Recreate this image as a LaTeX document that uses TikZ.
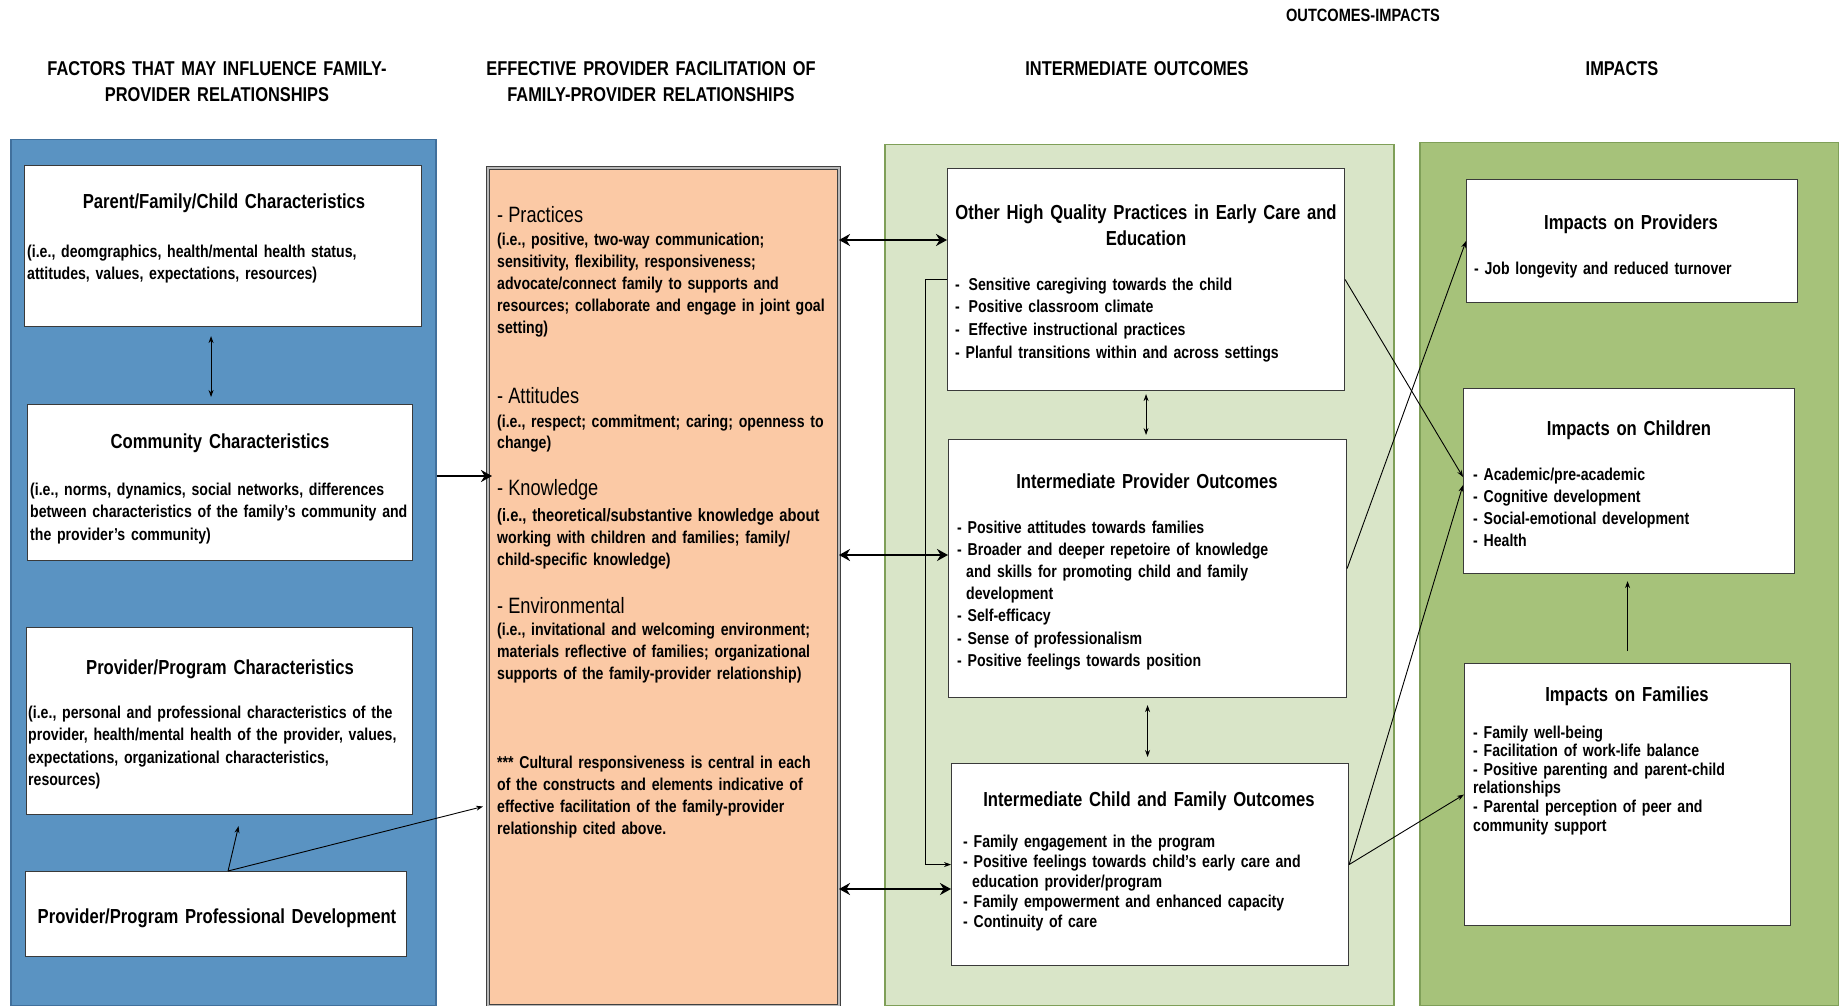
\documentclass[tikz,border=0pt]{standalone}
\usepackage{fontspec}
\setmainfont{Liberation Sans}[FakeStretch=0.82]
\usetikzlibrary{arrows.meta,positioning,calc}
\definecolor{panelblue}{HTML}{5A93C2}
\definecolor{panelblueline}{HTML}{41709C}
\definecolor{peach}{HTML}{FBC9A5}
\definecolor{sage}{HTML}{D9E5C8}
\definecolor{leaf}{HTML}{A6C27A}
\definecolor{leafline}{HTML}{7F9F58}
\definecolor{boxline}{HTML}{3A3A3A}
\tikzset{
  panel/.style={anchor=north west,inner sep=0pt,line width=1.5pt},
  wbox/.style={draw=boxline,fill=white,anchor=north west,inner sep=0pt,line width=1.1pt},
  hdr/.style={font=\fontsize{20}{26}\selectfont\bfseries,align=center,text width=460pt,anchor=base,inner sep=0pt},
  ttl/.style={font=\fontsize{20.3}{26}\selectfont\bfseries,align=center,text width=460pt,anchor=base,inner sep=0pt},
  txt/.style={font=\fontsize{17.2}{#1}\selectfont\bfseries,align=left,text width=460pt,anchor=base west,inner sep=0pt},
  txt/.default=22.5,
  secth/.style={font=\fontsize{22.2}{24}\selectfont,anchor=base west,inner sep=0pt},
  arr/.style={-{Stealth[length=7pt,width=5pt]},line width=0.9pt},
  tarr/.style={{Stealth[length=7pt,width=5pt]}-{Stealth[length=7pt,width=5pt]},line width=0.9pt},
  barr/.style={-{Stealth[length=11pt,width=12pt]},line width=2.8pt},
  darr/.style={{Stealth[length=11pt,width=12pt]}-{Stealth[length=11pt,width=12pt]},line width=2.8pt},
}
\begin{document}
\begin{tikzpicture}[x=1pt,y=-1pt]
  \useasboundingbox (0,0) rectangle (1839,1006);

  % column headers
  \node[hdr,font=\fontsize{17.8}{20}\selectfont\bfseries] (h0) at (1363,21.5) {OUTCOMES-IMPACTS};
  \node[hdr] (h1) at (217,76) {FACTORS THAT MAY INFLUENCE FAMILY-\\PROVIDER RELATIONSHIPS};
  \node[hdr] (h2) at (651,76) {EFFECTIVE PROVIDER FACILITATION OF\\FAMILY-PROVIDER RELATIONSHIPS};
  \node[hdr] (h3) at (1137,76) {INTERMEDIATE OUTCOMES};
  \node[hdr] (h4) at (1622,76) {IMPACTS};

  % panels
  \node[panel,draw=panelblueline,fill=panelblue,minimum width=425pt,minimum height=866pt] (bl) at (10,139) {};
  \node[panel,draw=black!75,double=gray!55,double distance=2pt,line width=1pt,fill=peach,
        minimum width=351pt,minimum height=838pt] (fac) at (487,167) {};
  \node[panel,draw=leafline,fill=sage,minimum width=509pt,minimum height=861pt] (io) at (884,144) {};
  \node[panel,draw=leafline,fill=leaf,minimum width=419pt,minimum height=863pt] (imp) at (1419,142) {};

  % factors
  \node[wbox,minimum width=397pt,minimum height=161pt] (pfc) at (24,165) {};
  \node[wbox,minimum width=385pt,minimum height=156pt] (com) at (27,404) {};
  \node[wbox,minimum width=386pt,minimum height=187pt] (ppc) at (26,627) {};
  \node[wbox,minimum width=381pt,minimum height=85pt] (ppd) at (25,871) {};
  \node[ttl] (pfc-t) at (224,208) {Parent/Family/Child Characteristics};
  \node[txt] (pfc-b) at (27,257) {(i.e., deomgraphics, health/mental health status,\\attitudes, values, expectations, resources)};
  \node[ttl] (com-t) at (220,448) {Community Characteristics};
  \node[txt] (com-b) at (30,495) {(i.e., norms, dynamics, social networks, differences\\between characteristics of the family's community and\\the provider's community)};
  \node[ttl] (ppc-t) at (220,674) {Provider/Program Characteristics};
  \node[txt] (ppc-b) at (28,718) {(i.e., personal and professional characteristics of the\\provider, health/mental health of the provider, values,\\expectations, organizational characteristics,\\resources)};
  \node[ttl] (ppd-t) at (217,923) {Provider/Program Professional Development};

  % facilitation
  \node[secth] (prh) at (497,222) {- Practices};
  \node[txt=22] (prb) at (497,245) {(i.e., positive, two-way communication;\\sensitivity, flexibility, responsiveness;\\advocate/connect family to supports and\\resources; collaborate and engage in joint goal\\setting)};
  \node[secth] (ath) at (497,403) {- Attitudes};
  \node[txt=21] (atb) at (497,427) {(i.e., respect; commitment; caring; openness to\\change)};
  \node[secth] (knh) at (497,495) {- Knowledge};
  \node[txt=22] (knb) at (497,521) {{\fontsize{17.9}{22}\selectfont(i.e., theoretical/substantive knowledge about}\\working with children and families; family/\\child-specific knowledge)};
  \node[secth] (enh) at (497,613) {- Environmental};
  \node[txt=22] (enb) at (497,635) {(i.e., invitational and welcoming environment;\\materials reflective of families; organizational\\supports of the family-provider relationship)};
  \node[txt=22] (cul) at (497,768) {*** Cultural responsiveness is central in each\\of the constructs and elements indicative of\\effective facilitation of the family-provider\\relationship cited above.};

  % intermediate outcomes
  \node[wbox,minimum width=397pt,minimum height=222pt] (ohq) at (947,168) {};
  \node[wbox,minimum width=398pt,minimum height=258pt] (ipo) at (948,439) {};
  \node[wbox,minimum width=397pt,minimum height=202pt] (icf) at (951,763) {};
  \node[ttl] (ohq-t) at (1146,219) {Other High Quality Practices in Early Care and\\Education};
  \node[txt=22.7] (ohq-b) at (955,290) {-\hspace{3pt} Sensitive caregiving towards the child\\-\hspace{3pt} Positive classroom climate\\-\hspace{3pt} Effective instructional practices\\- Planful transitions within and across settings};
  \node[ttl] (ipo-t) at (1147,488) {Intermediate Provider Outcomes};
  \node[txt=22.2] (ipo-b) at (957,533) {- Positive attitudes towards families\\- Broader and deeper repetoire of knowledge\\\hspace*{9pt}and skills for promoting child and family\\\hspace*{9pt}development\\- Self-efficacy\\- Sense of professionalism\\- Positive feelings towards position};
  \node[ttl] (icf-t) at (1149,806) {Intermediate Child and Family Outcomes};
  \node[txt=20] (icf-b) at (963,847) {- Family engagement in the program\\- Positive feelings towards child's early care and\\\hspace*{9pt}education provider/program\\- Family empowerment and enhanced capacity\\- Continuity of care};

  % impacts
  \node[wbox,minimum width=331pt,minimum height=123pt] (ipr) at (1466,179) {};
  \node[wbox,minimum width=331pt,minimum height=185pt] (ich) at (1463,388) {};
  \node[wbox,minimum width=326pt,minimum height=262pt] (ifa) at (1464,663) {};
  \node[ttl] (ipr-t) at (1631,229) {Impacts on Providers};
  \node[txt] (ipr-b) at (1474,274) {- Job longevity and reduced turnover};
  \node[ttl] (ich-t) at (1629,435) {Impacts on Children};
  \node[txt=22] (ich-b) at (1473,480) {- Academic/pre-academic\\- Cognitive development\\- Social-emotional development\\- Health};
  \node[ttl] (ifa-t) at (1627,701) {Impacts on Families};
  \node[txt=18.6] (ifa-b) at (1473,738) {- Family well-being\\- Facilitation of work-life balance\\- Positive parenting and parent-child\\relationships\\- Parental perception of peer and\\community support};

  % connectors
  \coordinate (pc) at ($(pfc.south)+(-12,0)$);
  \draw[tarr,shorten <=9pt,shorten >=7pt] (pc) -- (pc |- com.north);
  \coordinate (cf) at (0,476);
  \draw[barr,shorten >=-5pt] (bl.east |- cf) -- (fac.west |- cf);
  \coordinate (pd) at ($(ppd.north)+(12,0)$);
  \draw[arr] (pd) -- ($(ppc.south)+(19,11)$);
  \draw[arr] (pd) -- ($(fac.west)+(-4,220)$);

  \coordinate (o1) at ($(ohq.north west)+(0,72)$);
  \coordinate (o2) at ($(ipo.north west)+(0,116)$);
  \coordinate (o3) at ($(icf.north west)+(0,126)$);
  \foreach \c in {o1,o2,o3}{\draw[darr] (fac.east |- \c) -- (\c);}

  \draw[tarr,shorten <=3pt,shorten >=4pt] (ohq.south) -- (ohq.south |- ipo.north);
  \draw[tarr,shorten <=7pt,shorten >=6pt] (ipo.south) -- (ipo.south |- icf.north);
  \draw[arr] (ohq.west) -- ++(-22,0) |- (icf.west);
  \draw[arr] (ohq.east) -- ($(ich.west)+(0,-4)$);
  \draw[arr] (ipo.east) -- (ipr.west);
  \draw[arr] (icf.east) -- ($(ich.west)+(0,4)$);
  \draw[arr] (icf.east) -- (ifa.west);
  \draw[arr,shorten <=12pt,shorten >=7pt] (ifa.north) -- (ifa.north |- ich.south);
\end{tikzpicture}
\end{document}
